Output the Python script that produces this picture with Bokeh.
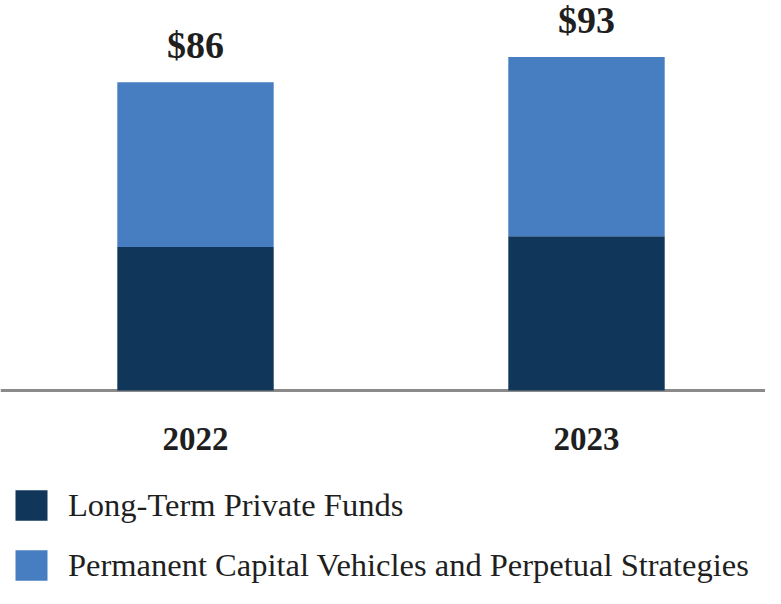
from bokeh.plotting import figure
from bokeh.models import Range1d, Span, Legend, LegendItem, ColumnDataSource
from bokeh.core.properties import value
from bokeh.embed import file_html
from bokeh.resources import INLINE

years = ["2022", "2023"]
long_term = [40, 43]
permanent = [46, 50]
totals = [86, 93]
total_labels = ["$86", "$93"]
series_names = ["Long-Term Private Funds", "Permanent Capital Vehicles and Perpetual Strategies"]

DARK = "#10365a"
LIGHT = "#477ec1"
SERIF = "'Liberation Serif', 'Times New Roman', serif"

W, H = 765, 588
PX_PER_UNIT = 3.585
BASE_PX = 390  # baseline distance from top of figure
X_PX_PER_UNIT = 391
X_LEFT_PX = 195

p = figure(width=W, height=H, output_backend="svg", toolbar_location=None,
           x_axis_location=None, y_axis_location=None, min_border=0,
           x_range=Range1d(-X_LEFT_PX / X_PX_PER_UNIT, (W - X_LEFT_PX) / X_PX_PER_UNIT),
           y_range=Range1d(-(H - BASE_PX) / PX_PER_UNIT, BASE_PX / PX_PER_UNIT))
p.outline_line_color = None
p.grid.visible = False
p.background_fill_color = "white"

xs = list(range(len(years)))
src = ColumnDataSource(dict(x=xs, lt=long_term, pm=permanent,
                            top1=long_term,
                            top2=[a + b for a, b in zip(long_term, permanent)],
                            total=totals, lab=total_labels, yr=years))

p.add_layout(Span(location=0, dimension="width", line_color="#8a8a8a", line_width=3, level="underlay"))

r1 = p.vbar(x="x", bottom=0, top="top1", width=0.4, source=src, fill_color=DARK, line_color=None)
r2 = p.vbar(x="x", bottom="top1", top="top2", width=0.4, source=src, fill_color=LIGHT, line_color=None)

# total labels above bars
p.text(x="x", y="total", text="lab", source=src, y_offset=-37,
       text_align="center", text_baseline="middle",
       text_font=value(SERIF), text_font_style="bold",
       text_font_size="38px", text_color="#1f1f1f")

# year labels below baseline
p.text(x="x", y=0, text="yr", source=src, y_offset=48,
       text_align="center", text_baseline="middle",
       text_font=value(SERIF), text_font_style="bold",
       text_font_size="33px", text_color="#1f1f1f")

legend = Legend(items=[LegendItem(label=series_names[0], renderers=[r1]),
                       LegendItem(label=series_names[1], renderers=[r2])],
                location=(11, 4), orientation="vertical",
                glyph_width=40, glyph_height=38, label_height=38,
                label_standoff=17, spacing=22, padding=0, margin=0,
                border_line_color=None, background_fill_alpha=0,
                label_text_font=SERIF, label_text_font_size="32.5px",
                label_text_color="#1f1f1f")
p.add_layout(legend, "center")

open("out.html", "w").write(file_html(p, INLINE))
